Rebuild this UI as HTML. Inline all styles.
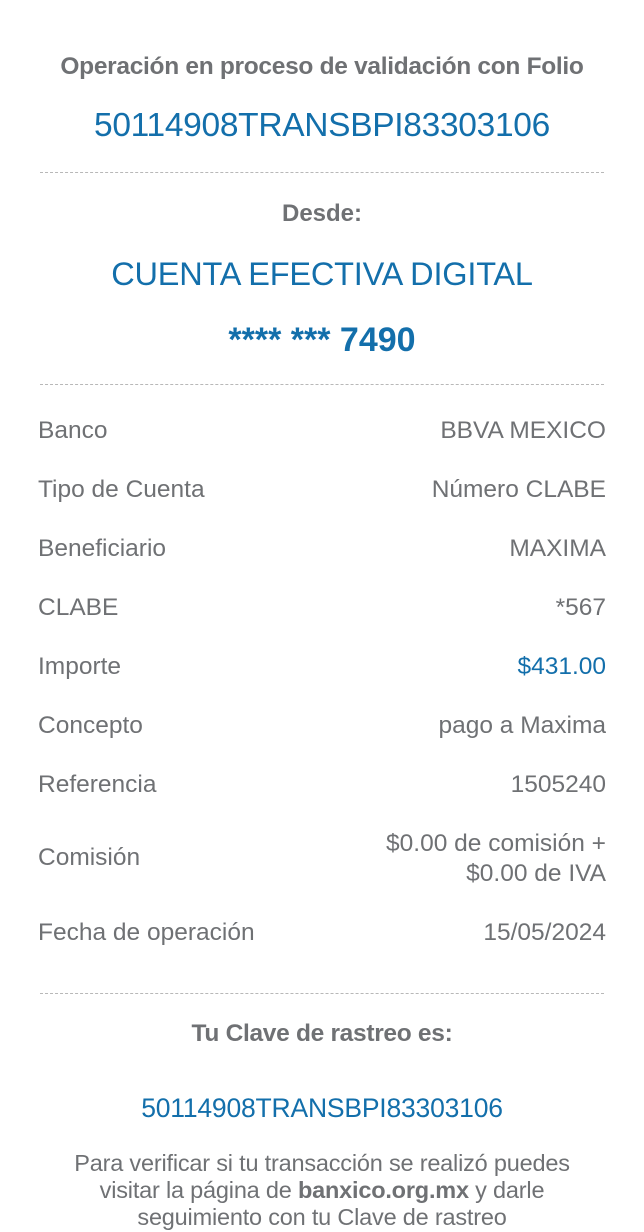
<!DOCTYPE html>
<html><head><meta charset="utf-8"><style>
html,body{margin:0;padding:0;background:#fff;}
body{width:644px;height:1231px;position:relative;overflow:hidden;font-family:"Liberation Sans",sans-serif;color:#6f7174;}
.t{position:absolute;white-space:nowrap;line-height:30px;height:30px;}
.c{left:0;width:644px;text-align:center;}
.l{left:38px;}
.r{right:38px;text-align:right;}
.b{color:#136fab;}
.row{font-size:24.5px;letter-spacing:0px;}
.hr{position:absolute;left:40px;width:564px;height:0;border-top:1px dashed #b8b8b8;}
</style></head><body>
<div class="t c" style="top:52px;font-size:24.5px;font-weight:bold;letter-spacing:-0.3px;">Operación en proceso de validación con Folio</div>
<div class="t c b" style="top:111px;font-size:33.5px;letter-spacing:-0.3px;">50114908TRANSBPI83303106</div>
<div class="hr" style="top:172px;"></div>
<div class="t c" style="top:199px;font-size:24px;font-weight:bold;">Desde:</div>
<div class="t c b" style="top:259px;font-size:32.5px;letter-spacing:-0.2px;">CUENTA EFECTIVA DIGITAL</div>
<div class="t c b" style="top:325px;font-size:34px;font-weight:bold;">**** *** 7490</div>
<div class="hr" style="top:384px;"></div>

<div class="t l row" style="top:416px;">Banco</div><div class="t r row" style="top:416px;">BBVA MEXICO</div>
<div class="t l row" style="top:475px;">Tipo de Cuenta</div><div class="t r row" style="top:475px;">Número CLABE</div>
<div class="t l row" style="top:534px;">Beneficiario</div><div class="t r row" style="top:534px;">MAXIMA</div>
<div class="t l row" style="top:593px;">CLABE</div><div class="t r row" style="top:593px;">*567</div>
<div class="t l row" style="top:652px;">Importe</div><div class="t r row b" style="top:652px;">$431.00</div>
<div class="t l row" style="top:711px;">Concepto</div><div class="t r row" style="top:711px;">pago a Maxima</div>
<div class="t l row" style="top:770px;">Referencia</div><div class="t r row" style="top:770px;">1505240</div>
<div class="t l row" style="top:843px;">Comisión</div>
<div class="t r row" style="top:829px;">$0.00 de comisión +</div>
<div class="t r row" style="top:859px;">$0.00 de IVA</div>
<div class="t l row" style="top:918px;">Fecha de operación</div><div class="t r row" style="top:918px;">15/05/2024</div>
<div class="hr" style="top:993px;"></div>

<div class="t c" style="top:1019px;font-size:24.5px;font-weight:bold;letter-spacing:-0.3px;">Tu Clave de rastreo es:</div>
<div class="t c b" style="top:1093px;font-size:26.5px;letter-spacing:-0.2px;">50114908TRANSBPI83303106</div>
<div class="t c" style="top:1148px;font-size:23.5px;letter-spacing:-0.2px;">Para verificar si tu transacción se realizó puedes</div>
<div class="t c" style="top:1175px;font-size:23.5px;letter-spacing:-0.2px;">visitar la página de <b>banxico.org.mx</b> y darle</div>
<div class="t c" style="top:1202px;font-size:23.5px;letter-spacing:-0.2px;">seguimiento con tu Clave de rastreo</div>
</body></html>
